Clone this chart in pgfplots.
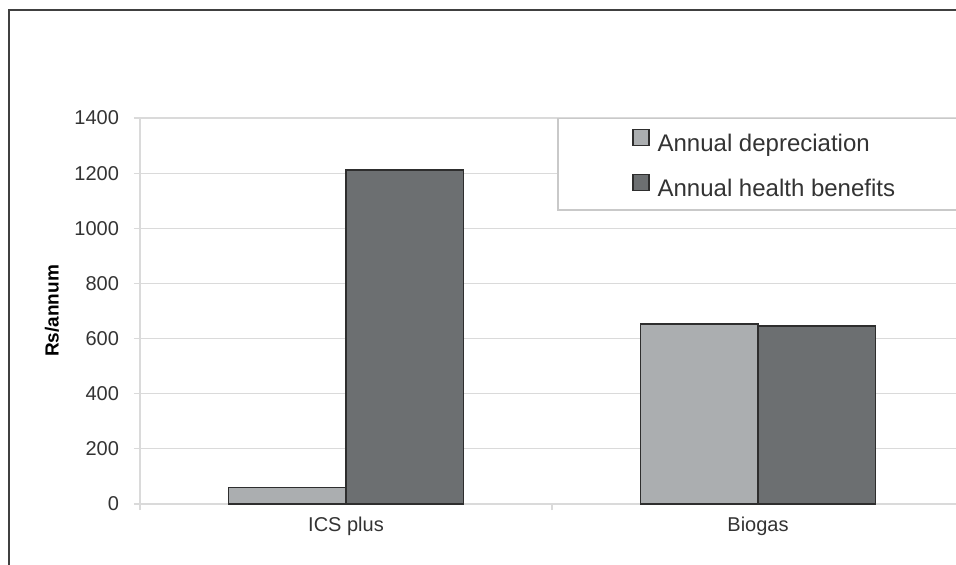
\documentclass[border=0pt]{standalone}
\usepackage{fontspec}
\setmainfont{Liberation Sans}
\usepackage{pgfplots}
\pgfplotsset{compat=1.18}
\definecolor{lightbar}{HTML}{ABAEB0}
\definecolor{darkbar}{HTML}{6C6F71}
\definecolor{gridc}{HTML}{DADADA}
\definecolor{txt}{HTML}{333333}
\definecolor{edge}{HTML}{2E2E2E}
\begin{document}
\begin{tikzpicture}
\useasboundingbox (-70pt,-30pt) rectangle (408pt,252pt);
\draw[line width=1pt, black!75] (-65.5pt,-31pt) -- (-65.5pt,247pt) -- (409pt,247pt);
\begin{axis}[
  at={(0,0)}, anchor=south west,
  scale only axis, width=408pt, height=193pt,
  ybar=0pt, bar width=58.75pt,
  xmin=-0.5, xmax=1.4806, ymin=0, ymax=1400,
  ytick={0,200,...,1400},
  xtick={-0.5,0.5,1.5}, xticklabels={},
  extra x ticks={0,1}, extra x tick labels={ICS plus,Biogas},
  extra x tick style={major tick length=0pt, grid=none},
  axis x line*=bottom, axis y line*=left,
  axis line style={gridc, line width=0.6pt},
  tick align=outside, major tick length=3pt,
  tick style={gridc, line width=0.6pt},
  ymajorgrids, grid style={gridc, line width=0.6pt},
  /pgf/number format/assume math mode=true,
  /pgf/number format/1000 sep={},
  tick label style={font=\fontsize{10pt}{12pt}\selectfont, text=txt},
  yticklabel style={xshift=-4pt},
  xticklabel style={yshift=-3pt},
  ylabel={Rs/annum},
  ylabel style={at={(axis description cs:-0.1078,0.5)}, anchor=center, rotate=0,
    font=\fontsize{9.5pt}{11pt}\selectfont\bfseries, text=black},
  legend style={draw=none, fill=none, at={(rel axis cs:0.5956,0.8782)}, anchor=west,
    font=\fontsize{12pt}{14pt}\selectfont, text=txt, row sep=9pt, column sep=4pt,
    nodes={inner sep=0pt, text height=9pt, text depth=2.5pt}},
  legend cell align=left,
]
\addplot[fill=lightbar, draw=edge, line width=0.75pt,
  legend image code/.code={\draw[fill=lightbar, draw=edge, line width=0.6pt] (0pt,-0.5pt) rectangle (8pt,7.5pt);}]
  coordinates {(0,60) (1,652)};
\addplot[fill=darkbar, draw=edge, line width=0.75pt,
  legend image code/.code={\draw[fill=darkbar, draw=edge, line width=0.6pt] (0pt,-0.5pt) rectangle (8pt,7.5pt);}]
  coordinates {(0,1212) (1,646)};
\fill[white] (rel axis cs:0.5123,0.7617) rectangle (rel axis cs:1.02,1);
\draw[gridc!92!black, line width=0.6pt] (rel axis cs:1.02,1) -- (rel axis cs:0.5123,1) -- (rel axis cs:0.5123,0.7617) -- (rel axis cs:1.02,0.7617);
\legend{Annual depreciation, Annual health benefits}
\end{axis}
\end{tikzpicture}
\end{document}
